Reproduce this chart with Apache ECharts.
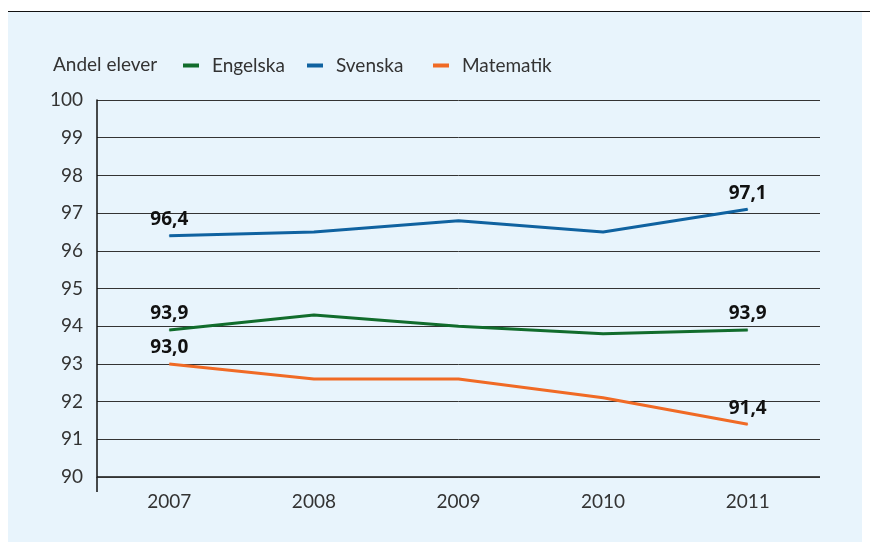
<!DOCTYPE html>
<html>
<head>
<meta charset="utf-8">
<script src="https://cdn.jsdelivr.net/npm/echarts@6/dist/echarts.min.js"></script>
<style>
  html, body { margin: 0; padding: 0; background: #fff; }
  #main { width: 870px; height: 542px; }
</style>
</head>
<body>
<div id="main"></div>
<script>
// data
var years = ['2007', '2008', '2009', '2010', '2011'];
var engelska = [93.9, 94.3, 94.0, 93.8, 93.9];
var svenska = [96.4, 96.5, 96.8, 96.5, 97.1];
var matematik = [93.0, 92.6, 92.6, 92.1, 91.4];
var yTicks = [90, 91, 92, 93, 94, 95, 96, 97, 98, 99, 100];
var names = ['Engelska', 'Svenska', 'Matematik'];

var font = 'Lato';
var chart = echarts.init(document.getElementById('main'));

// only first and last points get a label
function endLabel() {
    return {
        show: true,
        position: 'top',
        distance: 6,
        color: '#111',
        fontFamily: 'Open Sans',
        fontWeight: 'bold',
        fontSize: 19,
        formatter: function (p) {
            if (p.dataIndex !== 0 && p.dataIndex !== years.length - 1) return '';
            return p.value.toFixed(1).replace('.', ',');
        }
    };
}

function mkSeries(name, data, color) {
    return {
        name: name,
        type: 'line',
        data: data,
        symbol: 'circle',
        showSymbol: true,
        symbolSize: 1,
        lineStyle: { color: color, width: 3 },
        itemStyle: { color: color },
        label: endLabel(),
        z: 3
    };
}

// one legend per item, the original spaces them unevenly
var legendLeft = [183, 307, 433];
var legends = names.map(function (n, i) {
    return {
        left: legendLeft[i],
        top: 56,
        padding: 0,
        itemWidth: 16,
        itemHeight: 4,
        icon: 'rect',
        textStyle: { color: '#333', fontFamily: font, fontSize: 19, padding: [0, 0, 0, 8] },
        data: [n]
    };
});

var option = {
    backgroundColor: '#fff',
    animation: false,
    graphic: [
        { type: 'rect', left: 8, top: 12, shape: { width: 854, height: 530 }, style: { fill: '#e8f4fc' }, z: -10 },
        { type: 'line', shape: { x1: 8, y1: 11.5, x2: 870, y2: 11.5 }, style: { stroke: '#111', lineWidth: 1 }, z: -9 },
        { type: 'text', left: 53, top: 55, style: { text: 'Andel elever', fill: '#333', font: '19px ' + font } }
    ],
    legend: legends,
    grid: { left: 97, right: 50, top: 100, bottom: 65 },
    xAxis: {
        type: 'category',
        data: years,
        boundaryGap: true,
        axisLine: { show: false },
        axisTick: { show: false },
        axisLabel: { color: '#333', fontFamily: font, fontSize: 19, margin: 15 }
    },
    yAxis: {
        type: 'value',
        min: 90,
        max: 100,
        interval: 1,
        axisLine: { show: true, lineStyle: { color: '#111', width: 1.5 } },
        axisTick: { show: false },
        axisLabel: {
            color: '#333', fontFamily: font, fontSize: 19, margin: 14,
            formatter: function (v) { return yTicks.indexOf(v) >= 0 ? String(v) : ''; }
        },
        splitLine: { show: true, lineStyle: { color: '#333', width: 1 } }
    },
    series: [
        mkSeries(names[0], engelska, '#116c2c'),
        mkSeries(names[1], svenska, '#0f62a0'),
        mkSeries(names[2], matematik, '#f06a25')
    ]
};
chart.setOption(option);

// y axis line runs a bit below the bottom gridline
var p0 = chart.convertToPixel({ gridIndex: 0 }, [0, 90]);
var xLeft = 97;
chart.setOption({
    graphic: option.graphic.concat([
        { type: 'line', shape: { x1: xLeft, y1: p0[1], x2: xLeft, y2: p0[1] + 15 }, style: { stroke: '#111', lineWidth: 1.5 } },
        { type: 'line', shape: { x1: xLeft, y1: p0[1], x2: 870 - 50, y2: p0[1] }, style: { stroke: '#111', lineWidth: 1.5 } }
    ])
});
</script>
</body>
</html>
